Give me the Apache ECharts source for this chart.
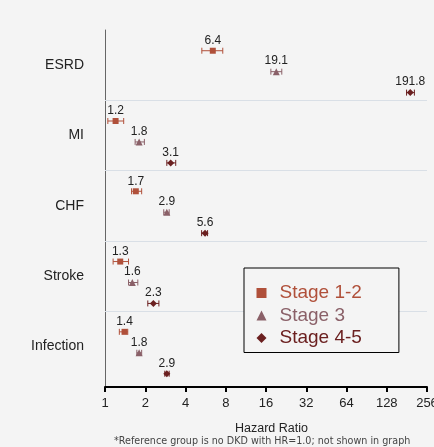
<!DOCTYPE html>
<html>
<head>
<meta charset="utf-8">
<script src="https://cdn.jsdelivr.net/npm/echarts@6/dist/echarts.min.js"></script>
<style>
html,body{margin:0;padding:0;background:#f4f4f4;}
#chart{width:434px;height:447px;}
</style>
</head>
<body>
<div id="chart"></div>
<script>
// ---- data ----
const categories = ['ESRD', 'MI', 'CHF', 'Stroke', 'Infection'];
const stages = ['Stage 1-2', 'Stage 3', 'Stage 4-5'];
const hr12 = [6.4, 1.2, 1.7, 1.3, 1.4];
const lo12 = [5.3, 1.05, 1.58, 1.15, 1.28];
const hi12 = [7.6, 1.38, 1.88, 1.5, 1.48];
const hr3 = [19.1, 1.8, 2.9, 1.6, 1.8];
const lo3 = [17.4, 1.68, 2.75, 1.5, 1.73];
const hi3 = [21.0, 1.97, 3.02, 1.76, 1.88];
const hr45 = [191.8, 3.1, 5.6, 2.3, 2.9];
const lo45 = [180, 2.9, 5.28, 2.09, 2.8];
const hi45 = [206, 3.38, 5.85, 2.53, 3.02];
const xTicks = [1, 2, 4, 8, 16, 32, 64, 128, 256];
const footnote = '*Reference group is no DKD with HR=1.0; not shown in graph';

// ---- styles ----
const colors = ['#b0503a', '#8a6068', '#6b2020'];
const symbols = ['rect', 'triangle', 'diamond'];
const symbolSizes = [6, 7, 7];
const FONT = '"Liberation Sans", Arial, sans-serif';

const hrs = [hr12, hr3, hr45];
const los = [lo12, lo3, lo45];
const his = [hi12, hi3, hi45];

// row position of stage s inside category group g
function rowPos(g, s) { return g + 0.295 + 0.298 * s; }

const series = [];
stages.forEach((name, s) => {
  const ciData = categories.map((c, g) => [los[s][g], his[s][g], rowPos(g, s)]);
  const ciSeries = {
    name: name,
    type: 'custom',
    silent: true,
    encode: { x: [0, 1], y: 2 },
    data: ciData,
    renderItem: function (params, api) {
      const p1 = api.coord([api.value(0), api.value(2)]);
      const p2 = api.coord([api.value(1), api.value(2)]);
      const h = 3;
      const st = { stroke: colors[s], lineWidth: 1 };
      return {
        type: 'group',
        children: [
          { type: 'line', shape: { x1: p1[0], y1: p1[1], x2: p2[0], y2: p2[1] }, style: st },
          { type: 'line', shape: { x1: p1[0], y1: p1[1] - h, x2: p1[0], y2: p1[1] + h }, style: st },
          { type: 'line', shape: { x1: p2[0], y1: p2[1] - h, x2: p2[0], y2: p2[1] + h }, style: st }
        ]
      };
    },
    z: 2
  };
  if (s === 0) {
    ciSeries.markLine = {
      silent: true,
      z: 1,
      symbol: 'none',
      label: { show: false },
      lineStyle: { color: '#d9dfe6', width: 1, type: 'solid' },
      data: categories.slice(1).map((c, i) => ({ yAxis: i + 1 }))
    };
  }
  series.push(ciSeries);
  series.push({
    name: name,
    type: 'scatter',
    symbol: symbols[s],
    symbolSize: symbolSizes[s],
    itemStyle: { color: colors[s], opacity: 1 },
    data: categories.map((c, g) => [hrs[s][g], rowPos(g, s)]),
    label: {
      show: true,
      position: 'top',
      distance: 1,
      color: '#222',
      fontSize: 12,
      fontFamily: FONT,
      formatter: (p) => p.value[0].toFixed(1)
    },
    z: 3
  });
});

const chart = echarts.init(document.getElementById('chart'), null, { renderer: 'canvas' });
chart.setOption({
  backgroundColor: '#f4f4f4',
  animation: false,
  color: colors,
  textStyle: { fontFamily: FONT },
  grid: { left: 105, right: 7, top: 30, bottom: 60, containLabel: false, outerBoundsMode: 'none' },
  xAxis: {
    type: 'log',
    logBase: 2,
    min: xTicks[0],
    max: xTicks[xTicks.length - 1],
    splitNumber: xTicks.length - 1,
    axisLine: { show: true, onZero: false, lineStyle: { color: '#000', width: 2 } },
    axisTick: { show: true, length: 5, lineStyle: { color: '#000', width: 2 } },
    splitLine: { show: false },
    axisLabel: {
      color: '#222', fontSize: 13, margin: 10, fontFamily: FONT,
      showMaxLabel: true, showMinLabel: true,
      formatter: (v) => String(Math.round(v))
    },
    name: 'Hazard Ratio',
    nameLocation: 'middle',
    nameGap: 35,
    nameTextStyle: { color: '#222', fontSize: 12.5, fontFamily: FONT, padding: [0, 0, 0, 11] }
  },
  yAxis: {
    type: 'value',
    inverse: true,
    min: 0,
    max: 5.08,
    axisLine: { show: true, onZero: false, lineStyle: { color: '#666', width: 1 } },
    axisTick: { show: false },
    splitLine: { show: false },
    axisLabel: {
      show: true,
      customValues: categories.map((c, i) => i + 0.5),
      formatter: (v) => categories[Math.floor(v)] || '',
      color: '#222', fontSize: 14, margin: 21, fontFamily: FONT
    }
  },
  legend: {
    orient: 'vertical',
    left: 244,
    top: 268,
    z: 10,
    backgroundColor: '#f4f4f4',
    borderColor: '#000',
    borderWidth: 1,
    borderRadius: 0,
    padding: [15.5, 37, 5, 12.5],
    itemWidth: 10,
    itemHeight: 10,
    itemGap: 3.5,
    selectedMode: false,
    textStyle: { fontSize: 19, fontFamily: FONT, padding: [0, 0, 0, 8] },
    data: stages.map((n, s) => ({
      name: n,
      icon: symbols[s],
      itemStyle: { color: colors[s] },
      textStyle: { color: colors[s], fontSize: 19, padding: [0, 0, 0, 8] }
    }))
  },
  graphic: [{
    type: 'text',
    left: 114,
    top: 436,
    style: { text: footnote, fill: '#444', font: '9.6px "DejaVu Sans", sans-serif' }
  }],
  series: series
});
</script>
</body>
</html>
